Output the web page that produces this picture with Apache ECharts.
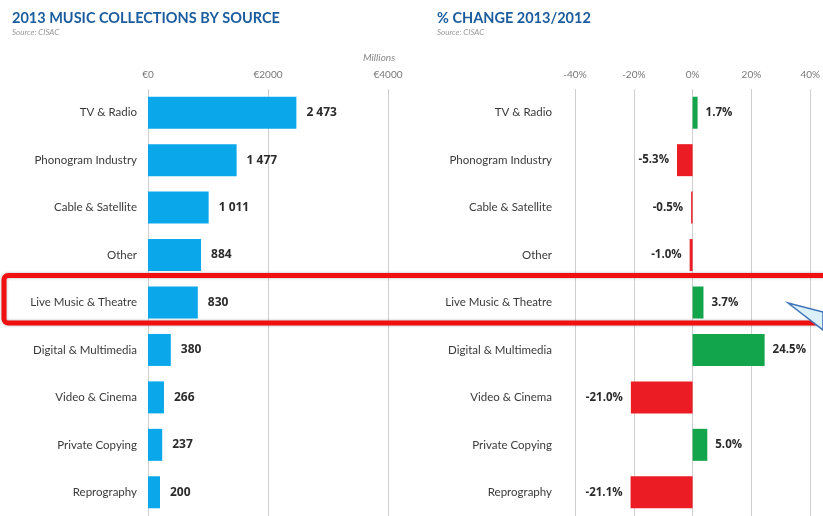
<!DOCTYPE html>
<html><head><meta charset="utf-8">
<script src="https://cdn.jsdelivr.net/npm/echarts@6/dist/echarts.min.js"></script>
<style>html,body{margin:0;padding:0;background:#fff}#c{width:823px;height:516px}</style>
</head><body><div id="c"></div>
<script>
var categories = ['TV & Radio','Phonogram Industry','Cable & Satellite','Other','Live Music & Theatre','Digital & Multimedia','Video & Cinema','Private Copying','Reprography'];
var collections = [2473, 1477, 1011, 884, 830, 380, 266, 237, 200];
var changes = [1.7, -5.3, -0.5, -1.0, 3.7, 24.5, -21.0, 5.0, -21.1];
var leftTicks = ['€0','€2000','€4000'];
var rightTicks = ['-40%','-20%','0%','20%','40%'];

var FONT = 'Lato';
var changeData = changes.map(function(v){
  return {value: v,
    itemStyle: {color: v >= 0 ? '#12a54b' : '#ec1c24'},
    label: {position: v >= 0 ? 'right' : 'left'}};
});
var chart = echarts.init(document.getElementById('c'));
var catLabel = {color:'#3a3a3a', fontSize:11.5, fontFamily:FONT};
chart.setOption({
  backgroundColor:'#fff',
  animation:false,
  title:[
    {text:'2013 MUSIC COLLECTIONS BY SOURCE', subtext:'Source: CISAC', left:7, top:6, itemGap:2,
     textStyle:{color:'#1b5c9e', fontSize:14.5, fontWeight:'bold', fontFamily:FONT},
     subtextStyle:{color:'#999', fontSize:8, fontStyle:'italic', fontFamily:FONT}},
    {text:'% CHANGE 2013/2012', subtext:'Source: CISAC', left:432, top:6, itemGap:2,
     textStyle:{color:'#1b5c9e', fontSize:14.5, fontWeight:'bold', fontFamily:FONT},
     subtextStyle:{color:'#999', fontSize:8, fontStyle:'italic', fontFamily:FONT}},
    {text:'Millions', left:358, top:48,
     textStyle:{color:'#888', fontSize:10, fontStyle:'italic', fontWeight:'normal', fontFamily:FONT}}
  ],
  grid:[
    {left:148, right:435, top:89, bottom:0},
    {left:575, right:9, top:89, bottom:0}
  ],
  xAxis:[
    {type:'value', gridIndex:0, position:'top', min:0, max:4000, interval:2000,
     axisLine:{show:false}, axisTick:{show:false},
     splitLine:{show:true, lineStyle:{color:'#cfcfcf', width:1}},
     axisLabel:{margin:9, color:'#777', fontSize:10, fontFamily:FONT,
       formatter:function(v){ return leftTicks[Math.round(v/2000)]; }}},
    {type:'value', gridIndex:1, position:'top', min:-40, max:40, interval:20,
     axisLine:{show:false}, axisTick:{show:false},
     splitLine:{show:true, lineStyle:{color:'#cfcfcf', width:1}},
     axisLabel:{margin:9, color:'#777', fontSize:10, fontFamily:FONT,
       formatter:function(v){ return rightTicks[Math.round((v+40)/20)]; }}}
  ],
  yAxis:[
    {type:'category', gridIndex:0, data:categories, inverse:true,
     axisLine:{show:false}, axisTick:{show:false}, axisLabel:Object.assign({margin:11}, catLabel)},
    {type:'category', gridIndex:1, data:categories, inverse:true,
     axisLine:{show:false}, axisTick:{show:false}, axisLabel:Object.assign({margin:23}, catLabel)}
  ],
  series:[
    {type:'bar', xAxisIndex:0, yAxisIndex:0, data:collections, barWidth:32,
     itemStyle:{color:'#0aa8ea'},
     label:{show:true, position:'right', distance:10, color:'#2b2b2b', fontSize:12, fontWeight:'bold', fontFamily:'Open Sans',
       formatter:function(p){ return String(p.value).replace(/\B(?=(\d{3})+(?!\d))/g,' '); }}},
    {type:'bar', xAxisIndex:1, yAxisIndex:1, data:changeData, barWidth:32,
     label:{show:true, distance:8, color:'#2b2b2b', fontSize:11.5, fontWeight:'bold', fontFamily:'Open Sans',
       formatter:function(p){ return p.value.toFixed(1) + '%'; }}}
  ],
  graphic:[
    {type:'rect', z:100, shape:{x:4, y:275.5, width:860, height:47.5, r:4},
     style:{fill:'none', stroke:'#f01010', lineWidth:5, shadowBlur:3, shadowColor:'rgba(0,0,0,0.3)'}},
    {type:'polygon', z:101, shape:{points:[[788,303],[823,312],[823,330]]},
     style:{fill:'#dcf0fa', stroke:'#3d74b8', lineWidth:1.5}}
  ]
});
</script></body></html>
